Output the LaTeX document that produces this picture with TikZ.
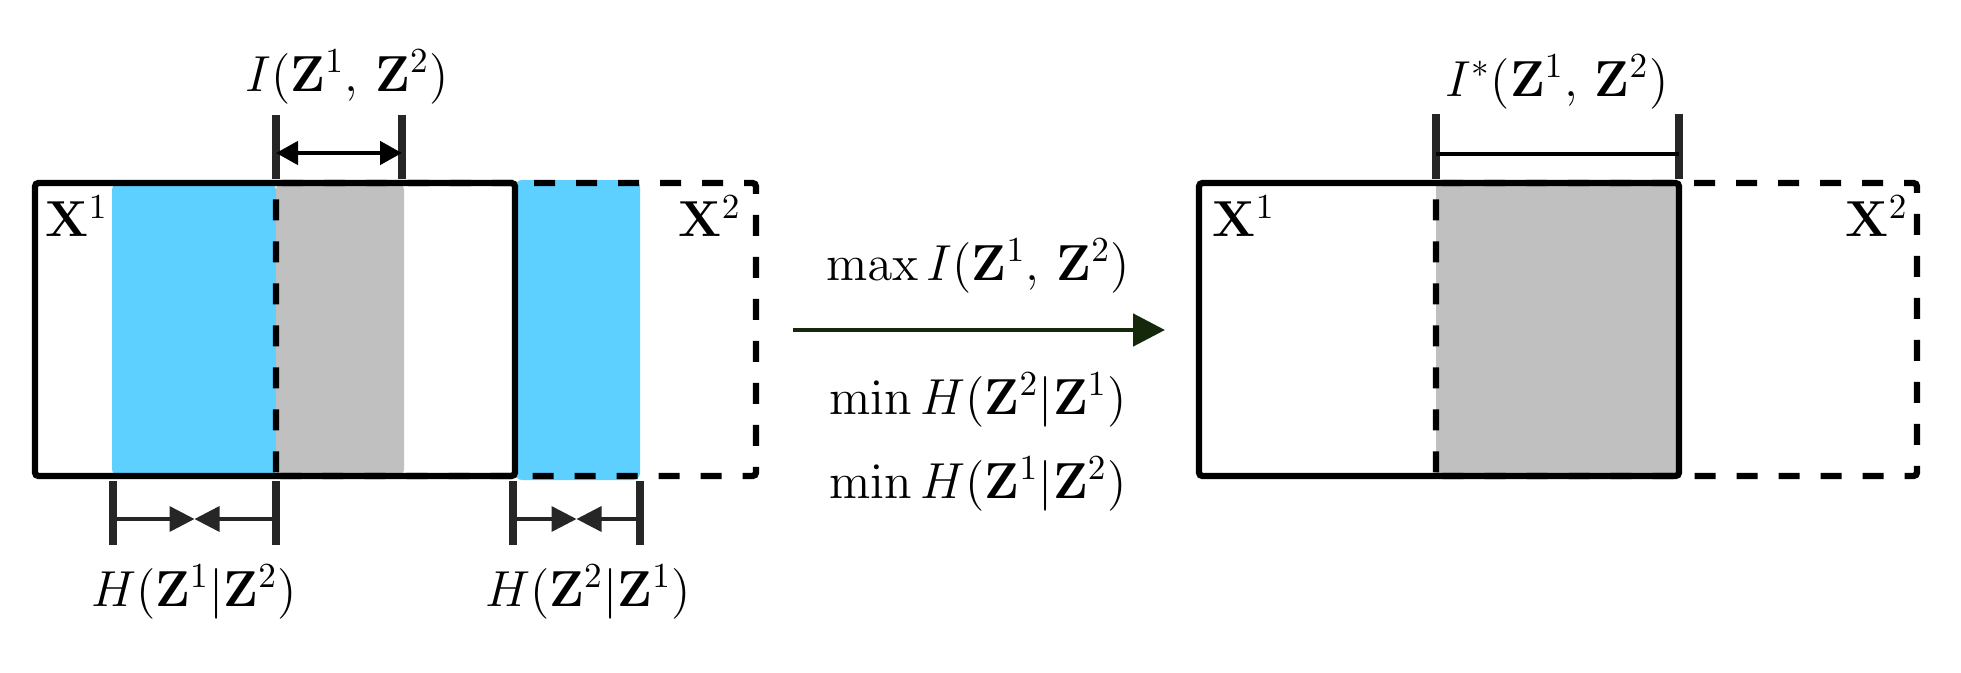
\documentclass[tikz,border=0pt]{standalone}
\usetikzlibrary{arrows.meta}
\definecolor{infoblue}{RGB}{94,208,255}
\definecolor{sharedgray}{RGB}{192,192,192}
\definecolor{arrowgreen}{RGB}{22,40,12}
\tikzset{
  viewbox/.style={line width=1.8pt, rounded corners=1pt},
  viewdash/.style={viewbox, dash pattern=on 0.21cm off 0.21cm},
  measuretick/.style={line width=2.2pt, black!85},
  iarrow/.style={line width=1.3pt, {Triangle[length=2.2mm,width=2.3mm]}-{Triangle[length=2.2mm,width=2.3mm]}},
  harrow/.style={line width=1pt, black!85, -{Triangle[length=2.5mm,width=2.5mm]}},
  steparrow/.style={line width=1.4pt, arrowgreen, -{Triangle[length=3.2mm,width=3.2mm]}},
}
\begin{document}
\begin{tikzpicture}[font=\fontsize{14.6}{17}\selectfont]
\useasboundingbox (0,0) rectangle (19.61,6.72);
% left: two views before training
\fill[infoblue, rounded corners=2pt] (1.12,1.96) rectangle (2.76,4.89);
\fill[sharedgray, rounded corners=2pt] (2.76,1.96) rectangle (4.04,4.89);
\fill[infoblue, rounded corners=2pt] (5.15,1.92) rectangle (6.40,4.92);
\draw[viewdash] (2.76,1.96) rectangle (7.56,4.89);
\draw[viewbox] (0.35,1.96) rectangle (5.15,4.89);
\node (xa) at (0.77,4.56) {$\mathbf{X}^1$};
\node (xb) at (7.10,4.56) {$\mathbf{X}^2$};
% mutual information
\draw[measuretick] (2.76,5.57) -- (2.76,4.93);
\draw[measuretick] (4.02,5.57) -- (4.02,4.93);
\coordinate (ia) at (2.76,5.19);
\coordinate (ib) at (4.02,5.19);
\draw[iarrow] (ia) -- (ib);
\node (ilabel) at (3.47,5.95) {$I\Bigl(\mathbf{Z}^1,\,\mathbf{Z}^2\Bigr)$};
% conditional entropies
\draw[measuretick] (1.13,1.91) -- (1.13,1.27);
\draw[measuretick] (2.76,1.91) -- (2.76,1.27);
\coordinate (ha) at (1.13,1.53);
\coordinate (hb) at (2.76,1.53);
\coordinate (hm) at (1.945,1.53);
\draw[harrow] (ha) -- (hm);
\draw[harrow] (hb) -- (hm);
\node (hlabela) at (1.94,0.80) {$H(\mathbf{Z}^1|\mathbf{Z}^2)$};
\draw[measuretick] (5.13,1.91) -- (5.13,1.27);
\draw[measuretick] (6.40,1.91) -- (6.40,1.27);
\coordinate (hc) at (5.13,1.53);
\coordinate (hd) at (6.40,1.53);
\coordinate (hn) at (5.765,1.53);
\draw[harrow] (hc) -- (hn);
\draw[harrow] (hd) -- (hn);
\node (hlabelb) at (5.88,0.80) {$H(\mathbf{Z}^2|\mathbf{Z}^1)$};
% objective
\coordinate (stepa) at (7.93,3.42);
\coordinate (stepb) at (11.65,3.42);
\draw[steparrow] (stepa) -- (stepb);
\node (maxi) at (9.78,4.06) {$\max I(\mathbf{Z}^1,\,\mathbf{Z}^2)$};
\node (minha) at (9.78,2.72) {$\min H(\mathbf{Z}^2|\mathbf{Z}^1)$};
\node (minhb) at (9.78,1.88) {$\min H(\mathbf{Z}^1|\mathbf{Z}^2)$};
% right: after training
\fill[sharedgray] (14.36,1.96) rectangle (16.79,4.89);
\draw[viewdash] (14.36,1.96) rectangle (19.17,4.89);
\draw[viewbox] (11.99,1.96) rectangle (16.79,4.89);
\node (xc) at (12.44,4.56) {$\mathbf{X}^1$};
\node (xd) at (18.77,4.56) {$\mathbf{X}^2$};
\draw[measuretick] (14.36,5.58) -- (14.36,4.93);
\draw[measuretick] (16.79,5.58) -- (16.79,4.93);
\coordinate (ic) at (14.36,5.18);
\coordinate (id) at (16.79,5.18);
\draw[line width=1pt] (ic) -- (id);
\node (istar) at (15.57,5.90) {$I^*(\mathbf{Z}^1,\,\mathbf{Z}^2)$};
\end{tikzpicture}
\end{document}
